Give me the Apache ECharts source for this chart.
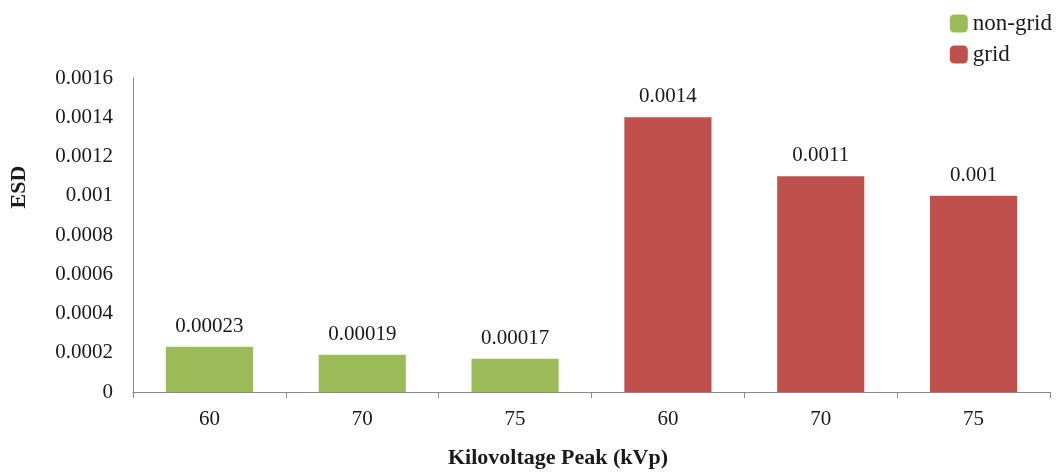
<!DOCTYPE html>
<html>
<head>
<meta charset="utf-8">
<script src="https://cdn.jsdelivr.net/npm/echarts@6/dist/echarts.min.js"></script>
<style>
  html, body { margin: 0; padding: 0; background: #fff; }
  #chart { width: 1061px; height: 472px; }
</style>
</head>
<body>
<div id="chart"></div>
<script>
// Categories (kVp) and ESD values for each setup
const categories = ['60', '70', '75', '60', '70', '75'];
const nonGridValues = [0.00023, 0.00019, 0.00017, null, null, null];
const gridValues = [null, null, null, 0.0014, 0.0011, 0.001];
const yTickLabels = ['0', '0.0002', '0.0004', '0.0006', '0.0008', '0.001', '0.0012', '0.0014', '0.0016'];
const yStep = 0.0002;
const xTitle = 'Kilovoltage Peak (kVp)';
const yTitle = 'ESD';

const FONT = '"Liberation Serif", "Times New Roman", serif';
const TXT = '#1a1a1a';

const chart = echarts.init(document.getElementById('chart'));

const labelOpt = {
  show: true,
  position: 'top',
  distance: 10,
  color: TXT,
  fontFamily: FONT,
  fontSize: 21,
  formatter: p => String(p.value)
};

chart.setOption({
  animation: false,
  backgroundColor: '#fff',
  grid: { left: 133, right: 11, top: 78, bottom: 80, containLabel: false },
  legend: {
    orient: 'vertical',
    right: 4,
    top: 7,
    itemWidth: 18,
    itemHeight: 18,
    itemGap: 8,
    icon: 'roundRect',
    textStyle: { fontFamily: FONT, fontSize: 23, color: TXT },
    data: ['non-grid', 'grid']
  },
  graphic: [
    {
      type: 'text',
      x: 558,
      y: 458,
      style: {
        text: xTitle,
        fontFamily: FONT,
        fontSize: 22,
        fontWeight: 'bold',
        fill: TXT,
        align: 'center',
        verticalAlign: 'middle'
      }
    },
    {
      type: 'text',
      x: 19,
      y: 187,
      rotation: Math.PI / 2,
      style: {
        text: yTitle,
        fontFamily: FONT,
        fontSize: 22,
        fontWeight: 'bold',
        fill: TXT,
        align: 'center',
        verticalAlign: 'middle'
      }
    }
  ],
  xAxis: {
    type: 'category',
    data: categories,
    axisLine: { lineStyle: { color: '#888', width: 1 } },
    axisTick: { show: true, alignWithLabel: false, length: 6, lineStyle: { color: '#888' } },
    axisLabel: { fontFamily: FONT, fontSize: 21, color: TXT, margin: 17 }
  },
  yAxis: {
    type: 'value',
    min: 0,
    max: 0.0016,
    interval: yStep,
    axisLine: { show: true, lineStyle: { color: '#888', width: 1 } },
    axisTick: { show: false },
    splitLine: { show: false },
    axisLabel: {
      fontFamily: FONT,
      fontSize: 21,
      color: TXT,
      margin: 20,
      formatter: v => yTickLabels[Math.round(v / yStep)]
    }
  },
  series: [
    {
      name: 'non-grid',
      type: 'bar',
      stack: 'esd',
      barWidth: '57%',
      data: nonGridValues,
      itemStyle: { color: '#9BBB59' },
      label: labelOpt
    },
    {
      name: 'grid',
      type: 'bar',
      stack: 'esd',
      barWidth: '57%',
      data: gridValues,
      itemStyle: { color: '#C0504D' },
      label: labelOpt
    }
  ]
});
</script>
</body>
</html>
